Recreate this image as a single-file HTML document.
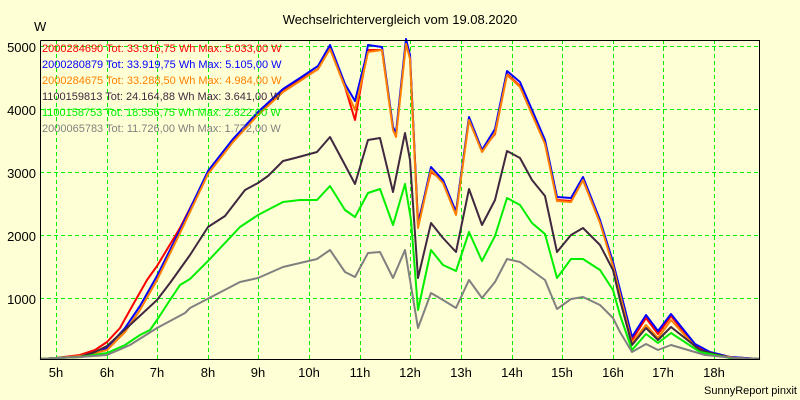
<!DOCTYPE html>
<html><head><meta charset="utf-8"><style>
html,body{margin:0;padding:0;background:#ffffd5;}
svg{display:block;font-family:"Liberation Sans",sans-serif;}
</style></head><body>
<svg width="800" height="400" viewBox="0 0 800 400" xmlns="http://www.w3.org/2000/svg">
<rect width="800" height="400" fill="#ffffd5"/>
<text x="400" y="24" font-size="13" text-anchor="middle" fill="#000">Wechselrichtervergleich vom 19.08.2020</text>
<text x="34" y="31" font-size="13" fill="#000">W</text>
<g stroke="#00f000" stroke-width="1" stroke-dasharray="4,3" fill="none">
<line x1="40" y1="46.5" x2="760" y2="46.5"/>
<line x1="40" y1="109.5" x2="760" y2="109.5"/>
<line x1="40" y1="172.5" x2="760" y2="172.5"/>
<line x1="40" y1="235.5" x2="760" y2="235.5"/>
<line x1="40" y1="298.5" x2="760" y2="298.5"/>
<line x1="56.5" y1="40" x2="56.5" y2="360"/>
<line x1="107.5" y1="40" x2="107.5" y2="360"/>
<line x1="157.5" y1="40" x2="157.5" y2="360"/>
<line x1="208.5" y1="40" x2="208.5" y2="360"/>
<line x1="258.5" y1="40" x2="258.5" y2="360"/>
<line x1="309.5" y1="40" x2="309.5" y2="360"/>
<line x1="360.5" y1="40" x2="360.5" y2="360"/>
<line x1="410.5" y1="40" x2="410.5" y2="360"/>
<line x1="461.5" y1="40" x2="461.5" y2="360"/>
<line x1="512.5" y1="40" x2="512.5" y2="360"/>
<line x1="562.5" y1="40" x2="562.5" y2="360"/>
<line x1="613.5" y1="40" x2="613.5" y2="360"/>
<line x1="663.5" y1="40" x2="663.5" y2="360"/>
<line x1="714.5" y1="40" x2="714.5" y2="360"/>
</g>
<g font-size="13" fill="#000" text-anchor="end">
<text x="36" y="52">5000</text>
<text x="36" y="115">4000</text>
<text x="36" y="178">3000</text>
<text x="36" y="241">2000</text>
<text x="36" y="304">1000</text>
</g>
<g font-size="13" fill="#000" text-anchor="middle">
<text x="56" y="377">5h</text><text x="107" y="377">6h</text><text x="157" y="377">7h</text>
<text x="208" y="377">8h</text><text x="258" y="377">9h</text><text x="309" y="377">10h</text>
<text x="360" y="377">11h</text><text x="410" y="377">12h</text><text x="461" y="377">13h</text>
<text x="512" y="377">14h</text><text x="562" y="377">15h</text><text x="613" y="377">16h</text>
<text x="663" y="377">17h</text><text x="714" y="377">18h</text>
</g>
<text x="797" y="394" font-size="11" text-anchor="end" fill="#000">SunnyReport pinxit</text>
<g fill="none" stroke-width="2" stroke-linejoin="round">
<polyline stroke="#ff0000" points="40,359 56,358 80,355 95,350 107,342 120,328 130,310 147,280 157,266 180,228 208,173 233,141 258,114 283,91 300,80 318,69 330,48 345,87 355,120 365,64 368,50 382,50 393,128 396,135 406,42 410,57 418,222 431,172 443,180 456,212 469,120 482,150 495,134 507,74 520,86 545,142 557,200 571,201 583,180 600,222 613,263 632,340 646,318 658,334 671,316 695,346 710,353 730,357 760,359"/>
<polyline stroke="#0000ff" points="40,359 56,358 80,356 95,353 107,348 125,328 140,306 157,276 180,230 208,171 233,139 258,112 283,89 300,78 318,66 330,45 345,84 355,101 365,61 368,45 382,47 393,127 396,133 406,39 410,55 418,225 431,167 443,180 456,212 469,117 482,150 495,129 507,71 520,82 545,140 557,197 571,198 583,177 600,220 613,262 632,337 646,315 658,331 671,314 695,344 710,352 730,357 760,359"/>
<polyline stroke="#ff8000" points="40,359 56,358 80,356 95,353 107,350 125,332 140,310 157,280 180,233 208,174 233,142 258,115 283,92 300,81 318,69 330,49 345,87 355,110 365,66 368,52 382,50 393,130 396,137 406,44 410,59 418,228 431,170 443,183 456,215 469,120 482,152 495,133 507,75 520,87 545,144 557,201 571,202 583,180 600,223 613,266 632,343 646,325 658,338 671,320 700,352 735,358 760,359"/>
<polyline stroke="#402840" points="40,359 56,358 80,357 95,352 107,346 130,325 157,300 170,283 190,255 208,227 225,216 245,190 258,183 268,176 283,161 295,158 317,152 330,137 345,165 355,184 368,140 380,138 393,192 405,133 410,160 418,278 431,223 443,238 456,252 469,189 482,225 495,200 507,151 520,158 532,180 545,196 557,252 571,235 583,228 600,245 613,270 620,300 632,345 646,328 658,340 671,327 700,350 730,358 760,359"/>
<polyline stroke="#00ee00" points="40,359 56,358 80,357 107,353 125,345 140,335 150,330 157,320 170,300 180,285 190,279 208,261 240,227 258,215 283,202 300,200 317,200 330,186 345,210 355,217 368,193 380,189 393,225 405,184 411,220 418,310 431,250 443,265 456,271 469,232 482,261 495,236 507,198 520,205 532,223 545,234 557,278 571,259 583,259 600,270 613,290 620,315 632,350 646,334 658,343 671,333 700,352 730,358 760,359"/>
<polyline stroke="#808080" points="40,359 56,358 80,357 107,355 130,345 157,328 185,313 190,308 215,295 240,282 258,278 283,267 300,263 317,259 330,250 345,272 355,277 368,253 380,252 393,278 405,250 418,328 431,293 443,300 456,308 469,280 482,298 495,282 507,259 520,262 545,280 557,309 571,299 583,297 600,305 613,318 620,332 632,352 646,344 658,350 671,345 705,355 735,358 760,359"/>
</g>
<polyline fill="none" stroke="#000" stroke-width="1" points="40.5,40.5 759.5,40.5 759.5,359.5 40.5,359.5 40.5,40.5"/>
<g font-size="11">
<text x="42" y="52" fill="#ff0000">2000284690 Tot: 33.916,75 Wh Max: 5.033,00 W</text>
<text x="42" y="68" fill="#0000ff">2000280879 Tot: 33.919,75 Wh Max: 5.105,00 W</text>
<text x="42" y="84" fill="#ff8000">2000284675 Tot: 33.288,50 Wh Max: 4.984,00 W</text>
<text x="42" y="100" fill="#402840">1100159813 Tot: 24.164,88 Wh Max: 3.641,00 W</text>
<text x="42" y="116" fill="#00ee00">1100158753 Tot: 18.556,75 Wh Max: 2.822,00 W</text>
<text x="42" y="132" fill="#808080">2000065783 Tot: 11.726,00 Wh Max: 1.772,00 W</text>
</g>
</svg>
</body></html>
